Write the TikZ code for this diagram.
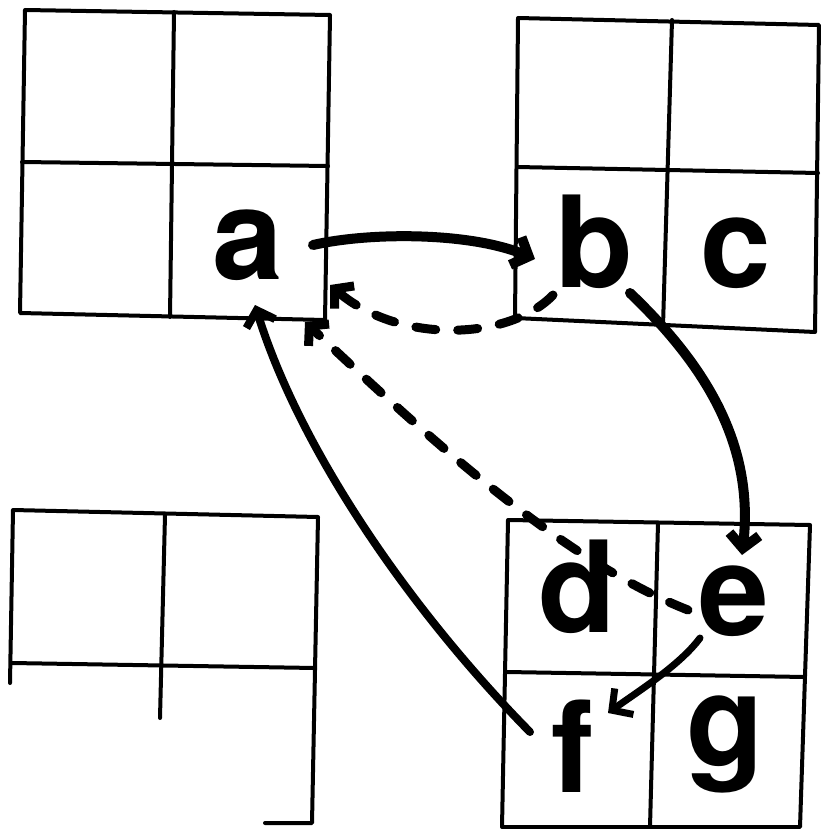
\documentclass[tikz,border=0pt]{standalone}
\usepackage{fontspec}
\setmainfont{TeX Gyre Heros}
\usetikzlibrary{arrows.meta,calc}
\begin{document}
\begin{tikzpicture}[x=1pt,y=-1pt,
  gridline/.style={line width=4pt, line cap=round, line join=round},
  letter/.style={font=\fontsize{127}{127}\selectfont\bfseries, inner sep=0pt, anchor=base},
  thickarrow/.style={line width=10pt, line cap=round, -{Straight Barb[length=14pt,width=30pt]}},
  thinarrow/.style={line width=7pt, line cap=round, -{Straight Barb[length=15pt,width=32pt]}},
  dasharrow/.style={line width=9pt, line cap=round, dash pattern=on 20pt off 22pt, -{Straight Barb[length=13pt,width=30pt]}}
]
\useasboundingbox (0,0) rectangle (820,829);
% top-left grid
\draw[gridline] (25,10) -- (330,15) -- (325,320) -- (20,313) -- cycle;
\draw[gridline] (174,12) -- (170,317);
\draw[gridline] (22,162) -- (328,166);
% top-right grid
\draw[gridline] (518,18) -- (819,25) -- (815,332) -- (515,318) -- cycle;
\draw[gridline] (672,20) -- (663,326);
\draw[gridline] (517,167) -- (818,173);
% bottom-left grid (partial)
\draw[gridline] (10,683) -- (13,510) -- (318,517) -- (312,823) -- (265,823);
\draw[gridline] (165,515) -- (160,718);
\draw[gridline] (12,663) -- (315,668);
% bottom-right grid
\draw[gridline] (508,520) -- (810,525) -- (800,827) -- (502,827) -- cycle;
\draw[gridline] (658,523) -- (650,827);
\draw[gridline] (507,672) -- (805,677);
% letters
\node[letter] (a) at (248,279) {a};
\node[letter] (b) at (594,287) {b};
\node[letter] (c) at (736,287) {c};
\node[letter] (d) at (577,632) {d};
\node[letter] (e) at (734,635) {e};
\node[letter] (f) at (573,792) {f};
\node[letter] (g) at (725,765) {g};
% connectors
\draw[thickarrow] ($(a.base)+(65,-34)$) .. controls (370,232) and (470,232) .. ($(b.base)+(-59,-28)$);
\draw[dasharrow] ($(b.base)+(-41,8)$) .. controls (510,340) and (400,345) .. ($(a.base)+(82,6)$);
\draw[thickarrow] ($(b.base)+(36,6)$) .. controls (700,360) and (755,440) .. ($(e.base)+(8,-80)$);
\draw[dasharrow] ($(e.base)+(-46,-25)$) .. controls (560,560) and (420,430) .. ($(a.base)+(57,43)$);
\draw[thickarrow, line width=8pt] ($(f.base)+(-43,-60)$) .. controls (410,610) and (300,450) .. ($(a.base)+(7,26)$);
\draw[thinarrow] ($(e.base)+(-34,3)$) .. controls (680,665) and (640,690) .. ($(f.base)+(35,-79)$);
\end{tikzpicture}
\end{document}
